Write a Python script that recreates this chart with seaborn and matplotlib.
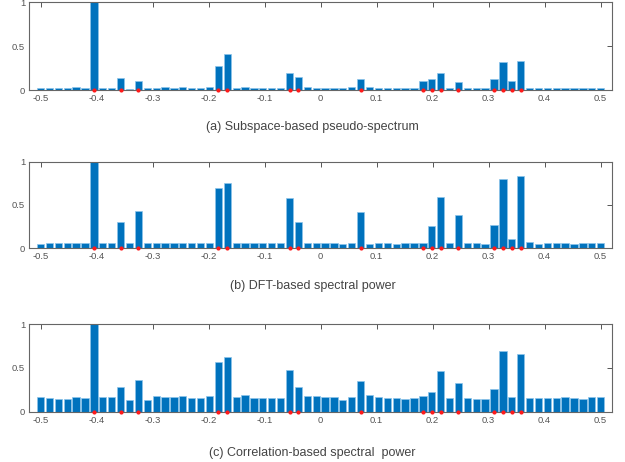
import numpy as np
import pandas as pd
import seaborn as sns
import matplotlib
matplotlib.use("Agg")
import matplotlib.pyplot as plt

# Frequency grid: 64 bins from -0.5 to 0.5
freqs = np.linspace(-0.5, 0.5, 64)

# indices of the true frequencies (red dots)
true_idx = [6, 9, 11, 20, 21, 28, 29, 36, 43, 44, 45, 47, 51, 52, 53, 54]

# (a) Subspace-based pseudo-spectrum
spec_a = [0.025, 0.025, 0.020, 0.022, 0.030, 0.025, 1.000, 0.020, 0.025, 0.140,
          0.018, 0.105, 0.022, 0.022, 0.030, 0.025, 0.030, 0.020, 0.028, 0.030,
          0.280, 0.415, 0.025, 0.033, 0.028, 0.022, 0.020, 0.020, 0.190, 0.147,
          0.030, 0.025, 0.025, 0.028, 0.020, 0.030, 0.128, 0.030, 0.022, 0.022,
          0.020, 0.020, 0.022, 0.106, 0.132, 0.190, 0.025, 0.090, 0.025, 0.022,
          0.022, 0.132, 0.325, 0.106, 0.336, 0.025, 0.025, 0.020, 0.022, 0.020,
          0.028, 0.022, 0.025, 0.028]

# (b) DFT-based spectral power
spec_b = [0.051, 0.059, 0.059, 0.059, 0.055, 0.055, 1.000, 0.059, 0.055, 0.297,
          0.059, 0.426, 0.059, 0.055, 0.059, 0.055, 0.055, 0.055, 0.059, 0.059,
          0.700, 0.754, 0.059, 0.055, 0.055, 0.055, 0.059, 0.055, 0.578, 0.300,
          0.059, 0.059, 0.055, 0.055, 0.051, 0.055, 0.420, 0.051, 0.055, 0.059,
          0.051, 0.055, 0.059, 0.059, 0.258, 0.586, 0.055, 0.383, 0.059, 0.059,
          0.051, 0.273, 0.800, 0.105, 0.832, 0.074, 0.051, 0.055, 0.059, 0.055,
          0.051, 0.055, 0.055, 0.055]

# (c) Correlation-based spectral power
spec_c = [0.168, 0.160, 0.149, 0.149, 0.172, 0.153, 1.000, 0.164, 0.168, 0.279,
          0.137, 0.363, 0.137, 0.179, 0.168, 0.164, 0.176, 0.153, 0.160, 0.179,
          0.569, 0.622, 0.164, 0.187, 0.156, 0.156, 0.156, 0.156, 0.473, 0.282,
          0.179, 0.179, 0.164, 0.164, 0.134, 0.168, 0.347, 0.190, 0.164, 0.156,
          0.156, 0.145, 0.153, 0.176, 0.225, 0.466, 0.156, 0.328, 0.156, 0.145,
          0.141, 0.256, 0.690, 0.172, 0.660, 0.160, 0.156, 0.160, 0.156, 0.164,
          0.156, 0.145, 0.168, 0.168]

captions = ["(a) Subspace-based pseudo-spectrum",
            "(b) DFT-based spectral power",
            "(c) Correlation-based spectral  power"]

xticks = [-0.5, -0.4, -0.3, -0.2, -0.1, 0, 0.1, 0.2, 0.3, 0.4, 0.5]
xticklabels = ["-0.5", "-0.4", "-0.3", "-0.2", "-0.1", "0", "0.1", "0.2", "0.3", "0.4", "0.5"]

sns.set_style("white")
plt.rcParams['font.family'] = ['Liberation Sans', 'DejaVu Sans']

fig = plt.figure(figsize=(6.25, 4.62), dpi=100)
# axes boxes [left, bottom, width, height] in figure fraction
boxes = [[0.047, 0.805, 0.932, 0.190],
         [0.047, 0.463, 0.932, 0.187],
         [0.047, 0.109, 0.932, 0.189]]
caption_y = [0.725, 0.381, 0.020]

axcol = '#555555'
for spec, cap, box, cy in zip([spec_a, spec_b, spec_c], captions, boxes, caption_y):
    ax = fig.add_axes(box)
    df = pd.DataFrame({'freq': freqs, 'power': spec})
    sns.barplot(data=df, x='freq', y='power', native_scale=True, ax=ax,
                color='#0072BD', saturation=1, errorbar=None, width=0.82,
                edgecolor='#8cc4ea', linewidth=0.5)
    ax.plot(freqs[true_idx], np.zeros(len(true_idx)), 'o', color='#ff1a1a',
            markersize=3, markeredgewidth=0, clip_on=False, zorder=5)
    ax.set_xlim(-0.52, 0.52)
    ax.set_ylim(0, 1)
    ax.set_xticks(xticks)
    ax.set_xticklabels(xticklabels)
    ax.set_yticks([0, 0.5, 1])
    ax.set_yticklabels(["0", "0.5", "1"])
    ax.set_xlabel("")
    ax.set_ylabel("")
    ax.tick_params(direction='in', length=3.5, width=0.7, colors=axcol,
                   labelsize=6.8, top=True, right=True, pad=3)
    for s in ax.spines.values():
        s.set_color('#666666')
        s.set_linewidth(0.8)
    ax.text(0.5, cy, cap, transform=fig.transFigure, ha='center', va='center',
            fontsize=9, color='#444444')

fig.savefig("out.png", dpi=100)
